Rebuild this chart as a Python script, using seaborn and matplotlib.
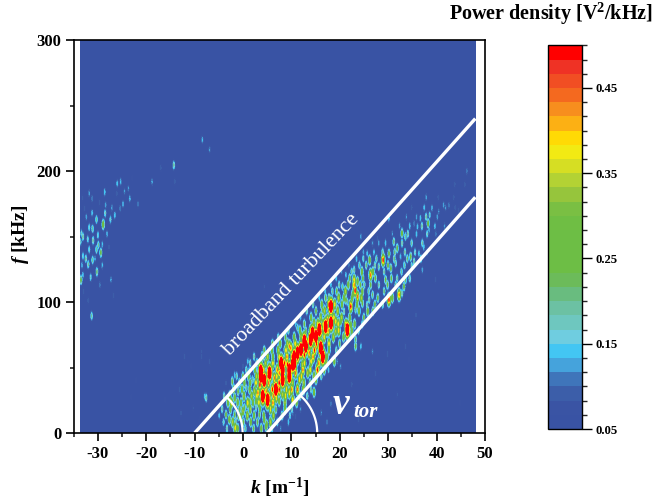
import numpy as np
import seaborn as sns
import matplotlib.pyplot as plt
from matplotlib.colors import ListedColormap

# spots: (k [1/m], f [kHz], power density)
left_spots = [
    (-28.8, 159.3, .30), (-29.3, 137.7, .25), (-31, 156, .20), (-31.7, 157, .17), (-28.5, 184, .15),
    (-25.9, 190.6, .15), (-25.2, 191.9, .14), (-31.7, 183, .13), (-31.1, 179, .12), (-28.4, 167.7, .18),
    (-30.2, 163, .20), (-27.3, 163, .17), (-26.4, 166.4, .15), (-24.7, 174.8, .14), (-23.3, 179, .14),
    (-21.6, 174.8, .12), (-25.3, 171.5, .12), (-33.3, 152.4, .17), (-33, 149.9, .20), (-32, 148, .17),
    (-33.5, 146, .17), (-29.8, 143.5, .20), (-29, 144, .14), (-31.7, 140, .17), (-30.2, 140, .20),
    (-31, 132, .20), (-31.9, 128.7, .20), (-30.1, 123, .22), (-31.4, 118.8, .17), (-33.4, 116.8, .25),
    (-33, 120.6, .15), (-27.2, 117, .13), (-31.2, 89.3, .20), (-26.7, 104.8, .10), (-31.9, 101, .10),
    (-14.2, 204.6, .20), (-14, 191.9, .10), (-8.3, 224, .14), (-6.8, 216.5, .12), (-18.7, 191.9, .13),
    (-23.6, 187, .12), (-16.9, 202.5, .10), (-32.7, 171.5, .10), (-33.1, 179.6, .09), (-29.5, 113, .12),
    (-32.3, 165, .13), (-31.1, 168, .15), (-33, 135, .17), (-32.4, 133, .20), (-29, 128, .14), (-30.9, 147, .20),
    (-29.9, 151, .17), (-28, 152, .14), (-27, 172, .13), (-26, 183, .10), (-24.4, 184.5, .12), (-22.8, 195, .08),
    (-28.3, 174, .13), (-29.6, 176, .10), (-33.2, 128, .14), (-32.9, 108, .10), (-30.5, 133, .13), (-27.6, 142, .10),
]
hot_spots = [
    (3.8, 43, .85), (3.8, 47, .85), (4.5, 40, .85), (5.6, 45.6, .85), (8, 53, .85), (8.3, 48, .85), (10.4, 52, .85),
    (10.7, 58, .85), (11.4, 61, .85), (12.1, 63.4, .85), (13.1, 66, .85), (12.8, 70, .85), (14.5, 76, .85),
    (15.2, 73.6, .85), (15.9, 78.7, .85), (16.2, 64.7, .85), (16.6, 58, .85), (17.2, 81, .85), (18.3, 96.5, .85),
    (18.3, 83.8, .85), (21.7, 78.7, .85), (9.7, 48, .85), (8.3, 40.5, .85), (6.9, 33, .85), (5.2, 25, .85),
    (4.2, 27.8, .85), (9.7, 43, .85), (14.1, 71, .85), (10.7, 53, .85),
]
low_spots = [
    (9.7, 66, .45), (8.3, 53, .50), (8, 49.4, .50), (9.3, 52, .50), (10.4, 53, .50), (11.4, 58, .50),
    (11, 45.6, .45), (7.6, 38, .50), (7.6, 32.8, .50), (6.6, 41.7, .45), (5.9, 48, .40), (3.9, 46.8, .45),
    (4.2, 40.5, .50), (3.6, 36.6, .50), (4.9, 31.6, .45), (3.2, 30.3, .45), (2.5, 31.6, .35), (5.6, 26.5, .45),
    (6.3, 22.7, .45), (5.2, 21.4, .35), (4.2, 26.5, .30), (1.1, 22.7, .40), (-0.3, 22.7, .30), (-2.3, 22.7, .40),
    (-1.6, 26.5, .30), (-0.9, 31.6, .25), (-2.1, 39, .25), (-1.6, 44, .15), (0.4, 18.8, .25), (0.8, 34, .20),
    (2.8, 24, .30), (3.5, 13.7, .25), (4.5, 10, .30), (5, 6, .30), (-1.6, 13.7, .25), (-2.7, 10, .30),
    (-3.4, 13.7, .25), (-1.5, 3.6, .40), (0.1, 16.3, .35), (7, 26.5, .40), (8.3, 29, .35), (9.7, 30.3, .40),
    (10.4, 25, .40), (9, 40.5, .35), (10.4, 38, .35), (11.4, 33, .45), (5.9, 30.3, .30), (2.1, 40.5, .20),
    (1.4, 48, .15), (1.1, 54.5, .15), (0.1, 50.6, .10), (7.6, 24, .30), (6.9, 17.6, .25), (4.9, 4.8, .30),
    (2.8, 18.9, .20), (1.4, 22.7, .30), (-0.3, 12.5, .30), (-1.3, 8.7, .20), (14.8, 30.8, .30), (10.4, 15, .12),
    (11, 12.5, .10),
    (-3.2, 3, .20), (-1, 3, .30), (0.6, 3, .20), (2.3, 3, .25), (3.9, 3, .30), (6.1, 3, .20), (7.9, 3, .12),
    (-3.9, 8, .18), (-2, 8, .35), (0.2, 8, .25), (1.7, 8, .30), (3.1, 8, .25), (5.8, 8, .35), (7.2, 8, .20), (9.5, 8, .15),
    (-4.8, 13, .15), (-0.8, 13, .30), (1, 13, .35), (2.4, 13, .30), (4.4, 13, .30), (6.4, 13, .35), (8.2, 13, .25), (9.8, 13, .18),
    (-4.2, 18, .20), (-2.5, 18, .30), (-0.6, 18, .25), (1.6, 18, .35), (3.6, 18, .30), (5.8, 18, .40), (8.8, 18, .30), (10.2, 18, .20), (12, 18, .12),
    (-3, 23, .30), (-1, 23, .30), (2.2, 23, .30), (3.4, 23, .40), (8.8, 23, .35), (11.2, 23, .30),
    (-3.8, 28, .20), (-2.6, 28, .30), (0.3, 28, .35), (1.9, 28, .35), (3, 28, .40), (6.4, 28, .45), (8.9, 28, .40), (11.9, 28, .25), (13.4, 28, .20),
    (-1.8, 33, .30), (-0.1, 33, .30), (1.5, 33, .30), (6.2, 33, .50), (9.1, 33, .40), (10.2, 33, .45), (12.6, 33, .35), (14.2, 33, .20),
    (-0.6, 38, .25), (0.4, 38, .30), (1.6, 38, .30), (2.8, 38, .40), (5.4, 38, .45), (8.6, 38, .40), (12.7, 38, .35), (14, 38, .25),
    (-1.2, 43, .20), (0.1, 43, .25), (1.3, 43, .30), (2.9, 43, .35), (5.2, 43, .45), (7.1, 43, .40), (9.4, 43, .45), (12.2, 43, .40), (14.8, 43, .35), (16.3, 43, .20),
    (0.8, 48, .20), (2.6, 48, .30), (4.4, 48, .40), (7.2, 48, .45), (12.5, 48, .45), (14, 48, .40), (16.9, 48, .30), (17.8, 48, .15),
]
mid_spots = [
    (17.9, 97.7, .50), (18.3, 83.8, .50), (17.6, 86, .45), (16.2, 77.4, .50), (15.5, 76, .50), (14.5, 71, .50),
    (14.8, 76, .45), (16.2, 67, .50), (12.4, 67, .50), (12.1, 61, .50), (11.4, 57, .50), (10, 64.7, .45),
    (12.8, 59.6, .50), (13.8, 61, .45), (16.6, 59.6, .50), (8.7, 53, .50), (7.6, 45.6, .45), (6.6, 40.5, .40),
    (12.4, 52, .35), (9.7, 48, .45), (10.7, 50.7, .40), (14.2, 54.5, .40), (15.5, 48, .50), (13.5, 45.6, .35),
    (11.8, 40.5, .40), (9.7, 39, .30), (21.4, 82.5, .45), (21.5, 77.4, .45), (19.3, 85, .40), (20.3, 85, .30),
    (19.3, 77.4, .35), (22.4, 82.5, .30), (18.6, 92.7, .30), (17.9, 102.8, .25), (16.6, 94, .25), (14.8, 83.8, .35),
    (13.1, 77.4, .25), (11.4, 80, .20), (12.1, 73.6, .35), (21, 92.7, .20), (21.7, 100, .20), (23.4, 94, .20),
    (24.8, 99, .25), (25.9, 92.7, .30), (26.2, 101.6, .20), (18.6, 108, .20), (22.8, 105.4, .30), (23.4, 71, .22),
    (22.4, 75, .18), (24.5, 66, .15), (20.3, 50.7, .12), (19.6, 54.5, .12), (18.6, 56, .15), (15.2, 40.5, .30),
    (6.3, 58, .30), (8.7, 63.4, .18), (15.9, 48, .12), (19, 54.5, .30), (15.5, 46.8, .30), (23.4, 66, .25),
    (1.6, 53, .20), (3, 53, .25), (4.8, 53, .35), (6.3, 53, .40), (12.8, 53, .40), (15.8, 53, .45), (17.3, 53, .35),
    (2.4, 58, .20), (4.1, 58, .30), (5.2, 58, .35), (7.6, 58, .40), (9.2, 58, .45), (10.3, 58, .50), (14.6, 58, .45), (17.5, 58, .30),
    (4.5, 63, .25), (6.1, 63, .30), (7.4, 63, .35), (9, 63, .40), (11.5, 63, .45), (14.9, 63, .50), (17.9, 63, .30), (19.4, 63, .20),
    (6.2, 68, .25), (7.8, 68, .30), (9.3, 68, .35), (10.9, 68, .40), (13.3, 68, .50), (15.3, 68, .50), (17.9, 68, .40), (20.1, 68, .25),
    (7.4, 73, .20), (8.9, 73, .25), (10.7, 73, .30), (13, 73, .40), (16.9, 73, .40), (18.8, 73, .35), (20.9, 73, .30),
    (9.5, 78, .20), (11.9, 78, .30), (14.1, 78, .40), (17.7, 78, .45), (19.9, 78, .40), (22.6, 78, .30), (24, 78, .20),
    (11, 83, .15), (12.8, 83, .25), (15.6, 83, .40), (16.7, 83, .40), (19.8, 83, .40), (23.2, 83, .30), (24.8, 83, .20),
    (12, 88, .15), (14.2, 88, .30), (16.2, 88, .35), (18.9, 88, .40), (20.5, 88, .35), (22.2, 88, .30), (25.1, 88, .25),
    (13.3, 93, .20), (15.2, 93, .25), (17, 93, .35), (19.7, 93, .35), (22.3, 93, .25), (24.1, 93, .30), (27, 93, .25),
    (14.6, 98, .20), (16.4, 98, .30), (19.1, 98, .40), (20.6, 98, .30), (23.7, 98, .30), (27.4, 98, .25), (29, 98, .20),
]
high_spots = [
    (38.4, 160, .27), (38.7, 166.4, .17), (33, 152.5, .27), (33.7, 150, .20), (36.8, 164, .15), (36.2, 157.5, .15),
    (35.5, 160, .12), (31.3, 146, .22), (32, 141, .25), (30.3, 137, .25), (29.1, 132, .50), (26.3, 132, .30),
    (26.5, 120.6, .45), (25.8, 137, .15), (23.1, 124.5, .20), (28.2, 127, .20), (30.7, 125.7, .25), (29.6, 117, .25),
    (31.7, 129.6, .20), (32.7, 134.6, .15), (34.8, 134.6, .25), (35.5, 130.8, .20), (36.5, 137, .15), (37.5, 142, .15),
    (28.2, 145, .13), (23.1, 116.8, .40), (23.1, 113, .45), (23.3, 108.7, .50), (23.8, 115.6, .30), (23.8, 104, .45),
    (21.4, 120.6, .15), (25.2, 113, .20), (26.9, 105.4, .22), (28.2, 113, .20), (30.3, 101.6, .50), (32.4, 105.4, .45),
    (33.4, 111.7, .25), (33, 106.7, .20), (33.7, 116.8, .22), (22.4, 96.5, .50), (21.4, 101.6, .25), (25.8, 97.7, .20),
    (30.3, 164, .15), (27.9, 148.6, .10), (24.5, 150, .13), (37.2, 123, .10), (42.7, 174, .12), (40.6, 169, .12),
    (40, 117, .08), (35.5, 125.7, .10), (20.7, 111.7, .20), (22.7, 103, .30), (38.6, 155, .14), (41.6, 174, .13),
    (46.4, 200, .12), (37.2, 124.5, .13),
    (15.9, 103, .15), (17.2, 103, .25), (19.9, 103, .35), (21, 103, .30), (24.6, 103, .35), (28, 103, .25), (31, 103, .30),
    (17.1, 108, .15), (19.5, 108, .25), (21.3, 108, .35), (24.8, 108, .30), (26.1, 108, .20), (29.3, 108, .22),
    (18.3, 113, .15), (20, 113, .20), (21.9, 113, .30), (24.4, 113, .25), (26.5, 113, .25), (30, 113, .25), (31.7, 113, .20),
    (19.4, 118, .15), (22.2, 118, .25), (24.9, 118, .25), (27.5, 118, .25), (30.8, 118, .25), (32, 118, .20), (34.6, 118, .20),
    (20.5, 123, .12), (22.6, 123, .20), (24.7, 123, .30), (27, 123, .30), (29.3, 123, .20), (32.9, 123, .20),
    (22, 128, .12), (24.2, 128, .20), (25.6, 128, .22), (27.4, 128, .20), (30.1, 128, .25), (33.5, 128, .20), (35, 128, .18),
    (23.6, 133, .15), (25, 133, .18), (27.7, 133, .20), (31.4, 133, .22), (34.1, 133, .22), (36.9, 133, .20),
    (25, 138, .13), (27.2, 138, .15), (29, 138, .20), (31.5, 138, .22), (33.6, 138, .20), (35.7, 138, .18), (38.2, 138, .13),
    (26.9, 145, .12), (29.6, 145, .15), (33, 145, .20), (35, 145, .20), (37.2, 145, .20),
    (31, 152, .12), (34.2, 152, .20), (36, 152, .15), (38.2, 152, .18), (40, 152, .12),
    (32.5, 158, .13), (34.6, 158, .15), (37.1, 158, .20), (39.8, 158, .15), (41.8, 158, .12),
    (33.9, 165, .12), (36, 165, .13), (38, 165, .20), (40.3, 165, .13),
    (35, 172, .10), (37.6, 172, .15), (39.2, 172, .14), (42, 172, .12), (44, 172, .10),
    (38, 180, .13), (40.5, 180, .10), (43.7, 180, .10), (43.9, 190, .10), (46, 190, .10),
]
faint_spots = [
    (-7.5, 26.5, .20), (-8.5, 58, .10), (-6.8, 54.5, .10), (-10.2, 18.8, .09), (-8.9, 10, .08), (-3.4, 38, .10),
    (26.9, 62, .12), (33.7, 66, .10), (39.9, 116.8, .10), (35.9, 90, .10), (45, 22.7, .08), (34.4, 55.8, .08),
    (44.7, 170, .10), (-7.8, 27.8, .15), (-12, 58.3, .10), (-8.5, 62, .09), (-10.6, 50.7, .08), (-12.7, 15, .10),
    (4.5, 111.7, .09), (24, 10, .10), (32, 29, .09), (-13, 33, .10), (-22, 40, .08), (-23, 27, .08), (-16, 25, .08),
    (17.5, 8, .12), (18.3, 22, .12), (20, 28, .10), (22.6, 37, .10), (25, 15, .08), (27.5, 45, .10), (30, 60, .10), (16.3, 15, .12),
]

# colorbar levels, bottom to top
band_colors = [
    '#3953A4', '#3A54A4', '#3C5EA9', '#3F75BA', '#45A3DC', '#43C6F3', '#6FCDE0', '#6EC7BF', '#6CC1A3',
    '#69BC7F', '#6CBB5A', '#6DBE45', '#6DBE45', '#6DBE45', '#6FBE44', '#7ABF43', '#96C53C', '#B3D234',
    '#D6DE23', '#F2EA13', '#FFDA05', '#FCB014', '#F78E1E', '#F4691F', '#F14E23', '#EF3225', '#FF0000',
]
cbar_labels = ['0.05', '0.15', '0.25', '0.35', '0.45']
cbar_values = [0.05, 0.15, 0.25, 0.35, 0.45]
k_ticks = [-30, -20, -10, 0, 10, 20, 30, 40, 50]
k_labels = ['-30', '-20', '-10', '0', '10', '20', '30', '40', '50']
f_ticks = [0, 100, 200, 300]

W, H = 655, 503

sns.set_style('ticks')
plt.rcParams['font.family'] = ['Liberation Serif', 'DejaVu Serif']
plt.rcParams['font.weight'] = 'bold'
plt.rcParams['mathtext.fontset'] = 'custom'
plt.rcParams['mathtext.rm'] = 'Liberation Serif:bold'
plt.rcParams['mathtext.bf'] = 'Liberation Serif:bold'
plt.rcParams['mathtext.it'] = 'Liberation Serif:italic:bold'


def px_axes(fig, x0, y0, x1, y1):
    # axes from pixel box, y measured from the top
    return fig.add_axes([x0 / W, 1 - y1 / H, (x1 - x0) / W, (y1 - y0) / H])


# spectrum on a grid, one cell per pixel or so; each spot keeps its own peak
k_grid = np.linspace(-33.5, 48.2, 396)
f_grid = np.linspace(0, 300, 393)
kk, ff = np.meshgrid(k_grid, f_grid)
power = np.full_like(kk, 0.05)
for k0, f0, a in left_spots + hot_spots + low_spots + mid_spots + high_spots + faint_spots:
    sk, sf = 0.17 + 0.2 * a, 2.0 + 2.5 * a
    power = np.maximum(power, 0.05 + (a - 0.05) * np.exp(-((kk - k0) / sk) ** 2 / 2 - ((ff - f0) / sf) ** 2 / 2))

fig = plt.figure(figsize=(W / 100, H / 100), dpi=100)

heat_ax = px_axes(fig, 80, 40, 476, 433)
cax = px_axes(fig, 548.3, 45.3, 581.7, 429)
sns.heatmap(power, ax=heat_ax, cbar_ax=cax, cmap=ListedColormap(band_colors), vmin=0.05, vmax=0.5,
            xticklabels=False, yticklabels=False)
heat_ax.invert_yaxis()
heat_ax.tick_params(left=False, bottom=False)

# frame and overlays live on a transparent axes in real units
ax = px_axes(fig, 73.7, 40, 485, 433)
ax.patch.set_alpha(0)
ax.set_xlim(-34.9, 50)
ax.set_ylim(0, 300)
for s in ax.spines.values():
    s.set_visible(True)
    s.set_linewidth(1.2)
    s.set_color('black')
ax.set_xticks(k_ticks, labels=k_labels)
ax.set_xticks(np.arange(-35, 50, 10), minor=True)
ax.set_yticks(f_ticks)
ax.set_yticks([50, 150, 250], minor=True)
ax.tick_params(which='major', length=6, width=1.2, labelsize=12, colors='black', pad=3)
ax.tick_params(which='minor', length=3, width=1.2)

ax.set_xlabel(r'$\mathit{k}$ [m$^{-1}$]', fontsize=14, fontweight='bold', labelpad=10, color='black')
ax.set_ylabel(r'$\mathit{f}$ [kHz]', fontsize=14, fontweight='bold', labelpad=4, color='black', y=0.505)

# band edges, stop at the end of the heat map
ax.plot([-10, 48], [0, 240], color='white', lw=2.4, solid_capstyle='butt')
ax.plot([5, 48], [0, 180], color='white', lw=2.4, solid_capstyle='butt')

# angle arcs, drawn round in pixels
t = np.radians(np.linspace(0, 48, 40))
sx, sy = 411.3 / 84.9, 393 / 300
ax.plot(-10 + 48 * np.cos(t) / sx, 48 * np.sin(t) / sy, color='white', lw=1.6)
ax.plot(5 + 50 * np.cos(t) / sx, 50 * np.sin(t) / sy, color='white', lw=1.6)

fig.text(291 / W, 1 - 285 / H, 'broadband turbulence', color='white', fontsize=15.6, fontweight='normal',
         rotation=46.5, ha='center', va='center', rotation_mode='anchor')
fig.text(333 / W, 1 - 414 / H, 'v', color='white', fontsize=27, fontweight='bold', style='italic')
fig.text(353 / W, 1 - 417 / H, 'tor', color='white', fontsize=15, fontweight='bold', style='italic')

# colorbar
cbar = heat_ax.collections[0].colorbar
cbar.outline.set_visible(True)
cbar.outline.set_linewidth(1.0)
cbar.outline.set_edgecolor('black')
cax.yaxis.set_ticks(cbar_values, labels=cbar_labels)
cax.yaxis.set_minor_locator(plt.FixedLocator(np.linspace(0.05, 0.5, 28)))
cax.tick_params(which='major', length=7, width=1.0, labelsize=9.2, colors='black', pad=3, right=True)
cax.tick_params(which='minor', length=3.5, width=1.0, right=True)

fig.text(653 / W, 1 - 14 / H, r'Power density [V$^{2}$/kHz]', fontsize=14.5, fontweight='bold',
         ha='right', va='center', color='black')

fig.savefig('out.png', dpi=100)
